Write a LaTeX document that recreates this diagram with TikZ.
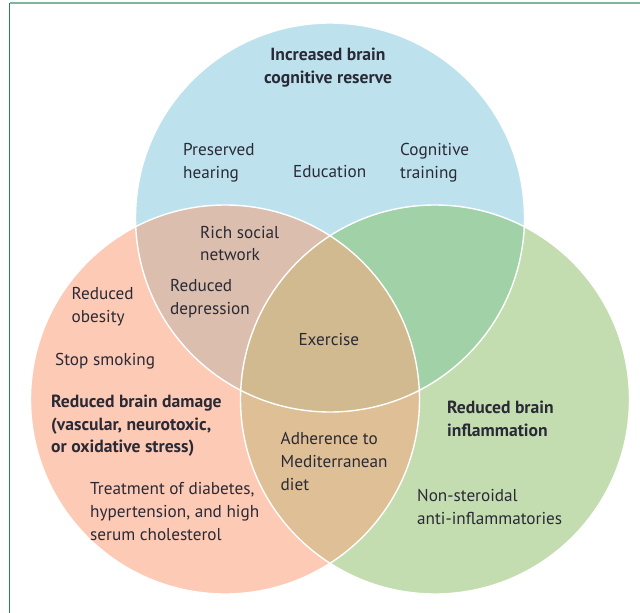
\documentclass[tikz,border=0pt]{standalone}
\usepackage{fontspec}
\setmainfont{PT Sans}
\definecolor{cblue}{HTML}{BDE2EE}
\definecolor{cpink}{HTML}{FDCAB6}
\definecolor{cgreen}{HTML}{C4DDB0}
\definecolor{cbp}{HTML}{DBBEAE}
\definecolor{cbg}{HTML}{A1D1A6}
\definecolor{cpg}{HTML}{DFBF95}
\definecolor{cbpg}{HTML}{D1BA90}
\definecolor{txt}{HTML}{2A2A36}
\definecolor{frameleft}{HTML}{2E7D55}
\definecolor{frametop}{HTML}{7DB898}
\begin{document}
\begin{tikzpicture}[x=1pt,y=-1pt,
  lbl/.style={font=\fontsize{17.2}{22.8}\selectfont, text=txt, align=left, anchor=north west, inner sep=0pt},
  hd/.style={lbl, font=\fontsize{17.6}{22.6}\selectfont\bfseries},
  ring/.style={draw=white, line width=1.4pt}]
\useasboundingbox (0,0) rectangle (640,613);
\fill[white] (0,0) rectangle (640,613);
% frame
\coordinate (fb) at (9.5,613);
\coordinate (ft) at (9.5,3);
\coordinate (fr) at (640,3);
\draw[frametop, line width=1.7pt] (ft) -- (fr);
\draw[frameleft, line width=1.5pt] (fb) -- (ft);
% circle centres
\coordinate (cB) at (330,217.5);
\coordinate (cP) at (225,399.5);
\coordinate (cG) at (435,399.5);
\def\rr{194.5pt}
% base fills
\fill[cblue] (cB) circle[radius=\rr];
\fill[cpink] (cP) circle[radius=\rr];
\fill[cgreen] (cG) circle[radius=\rr];
\begin{scope}
  \clip (cB) circle[radius=\rr];
  \fill[cbp] (cP) circle[radius=\rr];
  \fill[cbg] (cG) circle[radius=\rr];
\end{scope}
\begin{scope}
  \clip (cP) circle[radius=\rr];
  \fill[cpg] (cG) circle[radius=\rr];
\end{scope}
\begin{scope}
  \clip (cB) circle[radius=\rr];
  \clip (cP) circle[radius=\rr];
  \fill[cbpg] (cG) circle[radius=\rr];
\end{scope}
\draw[ring] (cB) circle[radius=\rr];
\draw[ring] (cP) circle[radius=\rr];
\draw[ring] (cG) circle[radius=\rr];
% labels
\node[hd, align=center, anchor=north] (reserve) at (328,48) {Increased brain\\cognitive reserve};
\node[lbl] (hearing) at (183,143.5) {Preserved\\hearing};
\node[lbl] (education) at (293,165.5) {Education};
\node[lbl] (training) at (400,143.5) {Cognitive\\training};
\node[lbl] (social) at (200,225.8) {Rich social\\network};
\node[lbl] (depression) at (170,279.2) {Reduced\\depression};
\node[lbl] (obesity) at (71.5,287.5) {Reduced\\obesity};
\node[lbl] (smoking) at (55,353.2) {Stop smoking};
\node[hd] (damage) at (51,394.8) {Reduced brain damage\\(vascular, neurotoxic,\\or oxidative stress)};
\node[lbl] (exercise) at (298.3,333.2) {Exercise};
\node[lbl] (diet) at (280.5,432.5) {Adherence to\\Mediterranean\\diet};
\node[lbl] (treatment) at (90,482.5) {Treatment of diabetes,\\hypertension, and high\\serum cholesterol};
\node[hd] (inflammation) at (447,401) {Reduced brain\\inflammation};
\node[lbl] (nsaid) at (417,489.5) {Non-steroidal\\anti-inflammatories};
\end{tikzpicture}
\end{document}
